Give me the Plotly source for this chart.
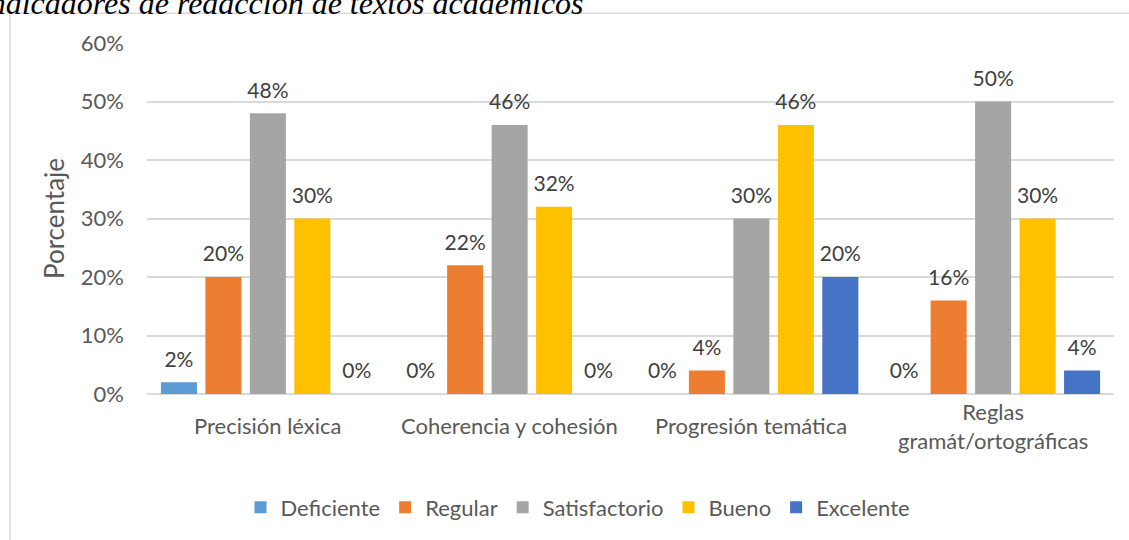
import plotly.graph_objects as go

categories = ["Precisión léxica", "Coherencia y cohesión", "Progresión temática", "Reglas<br>gramát/ortográficas"]
series_names = ["Deficiente", "Regular", "Satisfactorio", "Bueno", "Excelente"]
deficiente = [2, 0, 0, 0]
regular = [20, 22, 4, 16]
satisfactorio = [48, 46, 30, 50]
bueno = [30, 32, 46, 30]
excelente = [0, 0, 20, 4]
colors = ["#5B9BD5", "#ED7D31", "#A5A5A5", "#FFC000", "#4472C4"]
y_ticks = [0, 10, 20, 30, 40, 50, 60]

W, H = 1129, 540
L, R, T, B = 147, 15, 43, 144
pw, ph = W - L - R, H - T - B

def px_x(x):
    return (x - L) / pw

def px_y(y):
    return (H - B - y) / ph

FONT = "Lato"
fig = go.Figure()
all_vals = [deficiente, regular, satisfactorio, bueno, excelente]
for name, vals, col in zip(series_names, all_vals, colors):
    fig.add_trace(go.Bar(
        name=name, x=categories, y=vals, marker=dict(color=col, line=dict(width=0)),
        offsetgroup=name, hoverinfo="skip",
    ))
for name, vals in zip(series_names, all_vals):
    fig.add_trace(go.Scatter(
        x=categories, y=vals, mode="markers+text", offsetgroup=name,
        marker=dict(size=15, opacity=0), text=[f"{v}%" for v in vals], textposition="top center",
        textfont=dict(family=FONT, size=21, color="#404040"), showlegend=False, hoverinfo="skip",
        cliponaxis=False,
    ))

# category labels
for c in categories:
    fig.add_annotation(x=c, xref="x", y=px_y(428), yref="paper", text=c, showarrow=False,
                       yanchor="middle", font=dict(family=FONT, size=22, color="#595959"))

# clipped title at top
fig.add_annotation(x=px_x(586), xref="paper", y=px_y(2.5), yref="paper", xanchor="right", yanchor="middle",
                   text="<i>Indicadores de redacción de textos académicos</i>", showarrow=False,
                   font=dict(family="Liberation Serif", size=32, color="#000000"))

# chart border
fig.add_shape(type="rect", xref="paper", yref="paper", x0=px_x(10), x1=px_x(1140), y0=px_y(560), y1=px_y(13),
              line=dict(color="#D9D9D9", width=1.5), fillcolor="rgba(0,0,0,0)", layer="below")

fig.update_layout(
    width=W, height=H, margin=dict(l=L, r=R, t=T, b=B),
    paper_bgcolor="white", plot_bgcolor="white",
    barmode="group", bargap=0.08, bargroupgap=0.19,
    scattermode="group", scattergap=0.08,
    font=dict(family=FONT, color="#595959"),
    showlegend=True,
    legend=dict(orientation="h", x=px_x(578), xanchor="center", y=px_y(510), yanchor="middle",
                font=dict(family=FONT, size=22, color="#595959"), itemwidth=30, traceorder="normal"),
    xaxis=dict(showticklabels=False, showline=False, showgrid=False, ticks=""),
    yaxis=dict(range=[0, 60], tickvals=y_ticks, ticktext=[f"{v}%" for v in y_ticks],
               showgrid=True, gridcolor="#D9D9D9", gridwidth=1.5, zeroline=True, zerolinecolor="#D9D9D9",
               zerolinewidth=1.5, showline=False, ticks="", ticklabelstandoff=22,
               tickfont=dict(family=FONT, size=22, color="#595959"),
               title=dict(text="Porcentaje", font=dict(family=FONT, size=26, color="#595959"), standoff=8)),
)
fig.write_html("out.html", config={"displayModeBar": False},
               post_script="document.body.style.margin='0px';")
